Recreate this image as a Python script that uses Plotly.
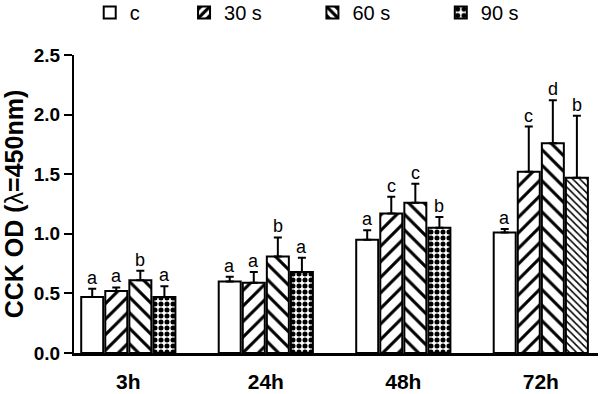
import plotly.graph_objects as go

categories = ["3h", "24h", "48h", "72h"]
series_names = ["c", "30 s", "60 s", "90 s"]

means = {
    "c":    [0.47, 0.60, 0.95, 1.01],
    "30 s": [0.52, 0.59, 1.17, 1.52],
    "60 s": [0.61, 0.81, 1.26, 1.76],
    "90 s": [0.47, 0.68, 1.05, 1.47],
}
err_tops = {
    "c":    [0.54, 0.64, 1.03, 1.04],
    "30 s": [0.55, 0.68, 1.31, 1.90],
    "60 s": [0.69, 0.97, 1.42, 2.12],
    "90 s": [0.56, 0.80, 1.14, 1.99],
}
letters = {
    "c":    ["a", "a", "a", "a"],
    "30 s": ["a", "a", "c", "c"],
    "60 s": ["b", "b", "c", "d"],
    "90 s": ["a", "a", "b", "b"],
}

patterns = {
    "c":    dict(shape=["", "", "", ""], size=[8, 8, 8, 8], solidity=[0.3] * 4),
    "30 s": dict(shape=["/", "/", "/", "/"], size=[11, 11, 11, 11], solidity=[0.28] * 4),
    "60 s": dict(shape=["\\", "\\", "\\", "\\"], size=[11, 11, 11, 11], solidity=[0.28] * 4),
    "90 s": dict(shape=[".", ".", ".", "\\"], size=[6, 6, 6, 5], solidity=[0.55, 0.55, 0.55, 0.3]),
}

legend_x = [0.03, 0.21, 0.455, 0.70]
legend_ids = ["legend", "legend2", "legend3", "legend4"]

fig = go.Figure()
for k, name in enumerate(series_names):
    m = means[name]
    e = [t - v for t, v in zip(err_tops[name], m)]
    p = patterns[name]
    fig.add_trace(go.Bar(
        name=name, x=categories, y=m,
        marker=dict(color="white", line=dict(color="black", width=2),
                    pattern=dict(shape=p["shape"], size=p["size"], solidity=p["solidity"],
                                 fgcolor="black", bgcolor="white", fgopacity=1,
                                 fillmode="overlay")),
        error_y=dict(type="data", array=e, arrayminus=[0] * 4, symmetric=False,
                     color="black", thickness=2, width=4),
        legend=legend_ids[k],
    ))

bargap = 0.3
slot = (1 - bargap) / len(series_names)
annotations = []
for k, name in enumerate(series_names):
    off = (k - (len(series_names) - 1) / 2) * slot
    for i, cat in enumerate(categories):
        annotations.append(dict(
            x=i + off, y=err_tops[name][i], xref="x", yref="y",
            text=letters[name][i], showarrow=False, yanchor="bottom",
            yshift=-1,
            font=dict(family="Liberation Sans, Arial", size=18, color="black"),
        ))

font_main = dict(family="Liberation Sans, Arial", color="black")
legend_common = dict(orientation="h", yanchor="middle", y=1.143, xanchor="left",
                     bgcolor="rgba(0,0,0,0)", borderwidth=0,
                     font=dict(family="Liberation Sans, Arial", size=20, color="black"))

layout_legends = {}
for lid, lx in zip(legend_ids, legend_x):
    layout_legends[lid] = dict(legend_common, x=lx)

fig.update_layout(
    width=610, height=394,
    margin=dict(l=74, r=12, t=55, b=41, autoexpand=False),
    paper_bgcolor="white", plot_bgcolor="white",
    barmode="group", bargap=bargap, bargroupgap=0.086,
    font=font_main,
    showlegend=True,
    annotations=annotations,
    xaxis=dict(
        type="category", range=[-0.395, 3.416],
        showline=True, linecolor="black", linewidth=2.5,
        ticks="", showgrid=False, zeroline=False,
        tickfont=dict(family="Liberation Sans, Arial", size=21, color="black", weight="bold"),
        ticklabelstandoff=8,
    ),
    yaxis=dict(
        range=[0, 2.5], tickvals=[0, 0.5, 1.0, 1.5, 2.0, 2.5],
        ticktext=["0.0", "0.5", "1.0", "1.5", "2.0", "2.5"],
        showline=True, linecolor="black", linewidth=2,
        ticks="outside", ticklen=8, tickwidth=2, tickcolor="black",
        showgrid=False, zeroline=False,
        tickfont=dict(family="Liberation Sans, Arial", size=19, color="black", weight="bold"),
        title=dict(text="<b>CCK OD (</b>λ<b>=450nm)</b>", standoff=6,
                   font=dict(family="Liberation Sans, Arial", size=25, color="black")),
    ),
    **layout_legends,
)

fig.write_html("out.html")
